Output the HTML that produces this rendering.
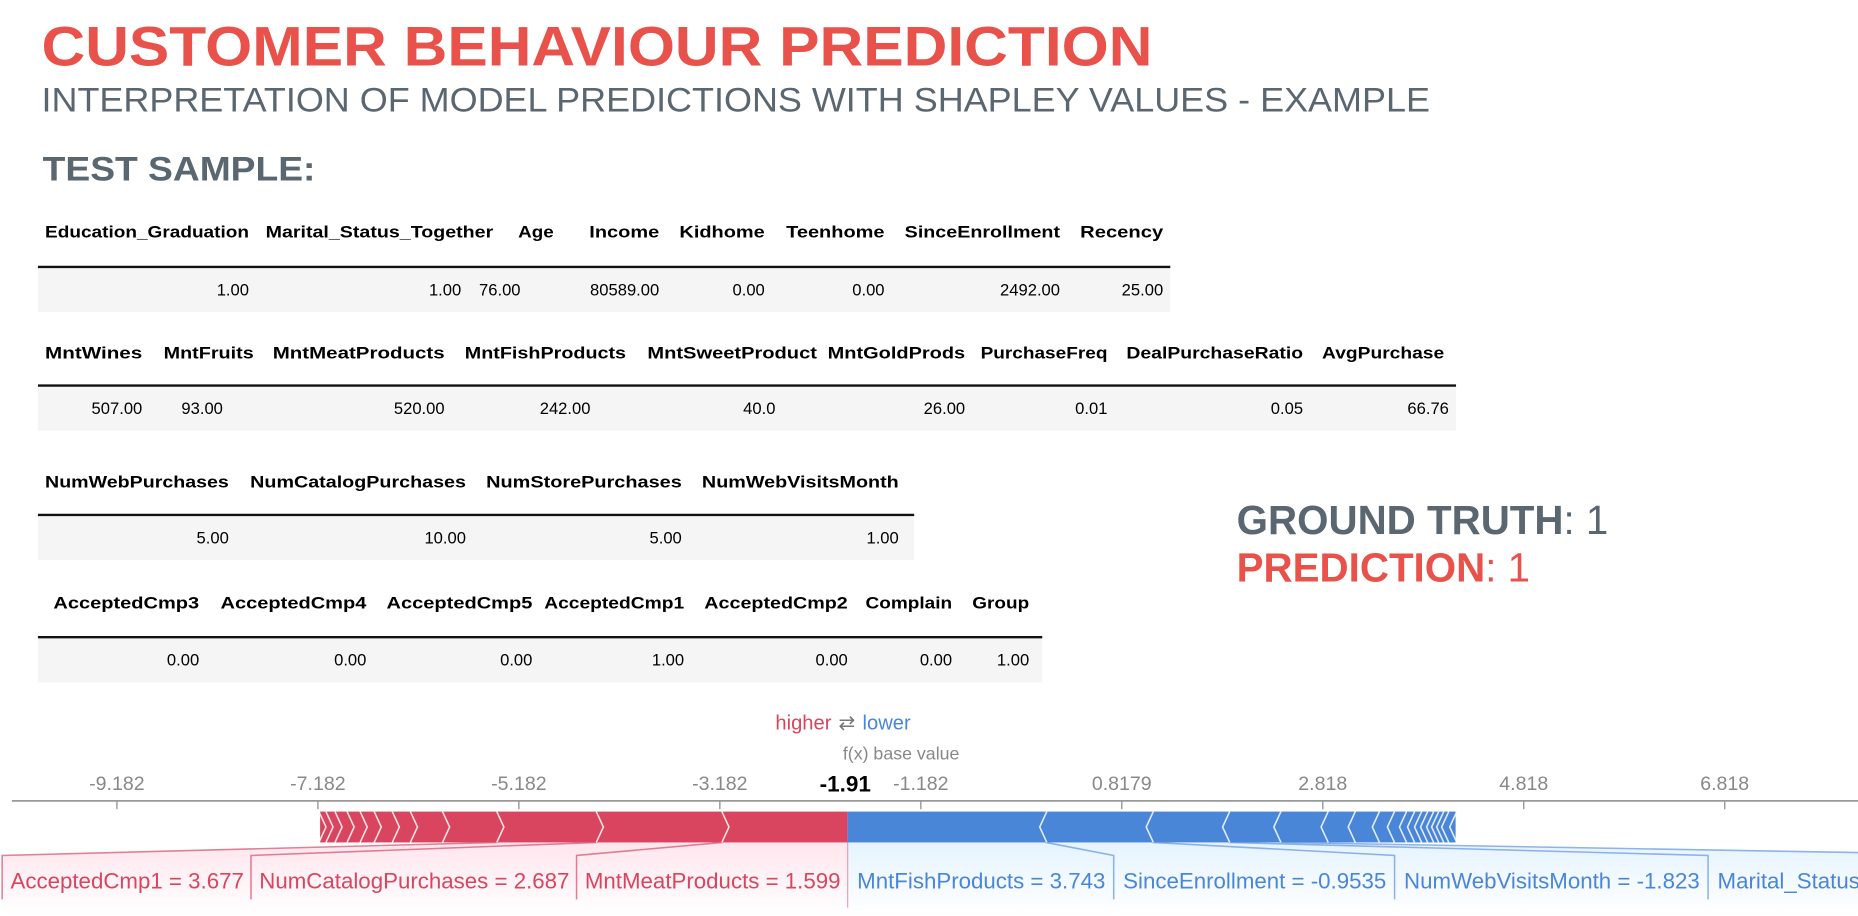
<!DOCTYPE html>
<html><head><meta charset="utf-8"><style>
html,body{margin:0;padding:0;background:#fff;}
svg{display:block;font-family:"Liberation Sans",Arial,sans-serif;}
</style></head><body>
<svg id="s" width="1858" height="916" viewBox="0 0 1567 772" preserveAspectRatio="none" xmlns="http://www.w3.org/2000/svg">
<defs>
<linearGradient id="gr" x1="0" y1="0" x2="0" y2="1"><stop offset="0" stop-color="#ff0051" stop-opacity="0.10"/><stop offset="1" stop-color="#ff0051" stop-opacity="0"/></linearGradient>
<linearGradient id="gb" x1="0" y1="0" x2="0" y2="1"><stop offset="0" stop-color="#008bfb" stop-opacity="0.10"/><stop offset="1" stop-color="#008bfb" stop-opacity="0"/></linearGradient>
</defs>
<text x="35" y="55" font-size="47" font-weight="bold" fill="#e8524a" textLength="937" lengthAdjust="spacingAndGlyphs">CUSTOMER BEHAVIOUR PREDICTION</text>
<text x="35" y="94" font-size="29" fill="#5a6670" textLength="1171" lengthAdjust="spacingAndGlyphs">INTERPRETATION OF MODEL PREDICTIONS WITH SHAPLEY VALUES - EXAMPLE</text>
<text x="36" y="152" font-size="29" font-weight="bold" fill="#5a6670" textLength="230" lengthAdjust="spacingAndGlyphs">TEST SAMPLE:</text>
<g id="tables"></g>
<g><text x="1043" y="450" font-size="34" fill="#5a6670"><tspan font-weight="bold">GROUND TRUTH</tspan>: 1</text></g>
<g><text x="1043" y="490" font-size="34" fill="#e8524a"><tspan font-weight="bold">PREDICTION</tspan>: 1</text></g>
<g id="force"></g>
</svg>
<script>
const NS="http://www.w3.org/2000/svg";
function mk(tag,attrs,parent){const e=document.createElementNS(NS,tag);for(const k in attrs)e.setAttribute(k,attrs[k]);parent.appendChild(e);return e;}

// ---- tables ----
const t1Headers=["Education_Graduation","Marital_Status_Together","Age","Income","Kidhome","Teenhome","SinceEnrollment","Recency"];
const t1Values=["1.00","1.00","76.00","80589.00","0.00","0.00","2492.00","25.00"];
const t2Headers=["MntWines","MntFruits","MntMeatProducts","MntFishProducts","MntSweetProduct","MntGoldProds","PurchaseFreq","DealPurchaseRatio","AvgPurchase"];
const t2Values=["507.00","93.00","520.00","242.00","40.0","26.00","0.01","0.05","66.76"];
const t3Headers=["NumWebPurchases","NumCatalogPurchases","NumStorePurchases","NumWebVisitsMonth"];
const t3Values=["5.00","10.00","5.00","1.00"];
const t4Headers=["AcceptedCmp3","AcceptedCmp4","AcceptedCmp5","AcceptedCmp1","AcceptedCmp2","Complain","Group"];
const t4Values=["0.00","0.00","0.00","1.00","0.00","0.00","1.00"];

const tablesG=document.getElementById('tables');
function table(name,headers,values,hx,vx,hy,ly,x1,w){
  const g=mk('g',{},tablesG);
  
  
  const bg=mk('rect',{x:32,y:ly+1,width:x1-32,height:37,fill:'#f5f5f5'},g);
  
  
  const ln=mk('line',{x1:32,x2:x1,y1:ly,y2:ly,stroke:'#111','stroke-width':2},g);
  
  
  headers.forEach((h,i)=>{
    const t=mk('text',{x:hx[i],y:hy,'font-size':14,'font-weight':'bold',fill:'#000',textLength:w[i],lengthAdjust:'spacingAndGlyphs'},g);
    t.textContent=h;
    
    
    const v=mk('text',{x:vx[i],y:ly+24,'font-size':14,fill:'#000','text-anchor':'end'},g);
    v.textContent=values[i];
    
    
  });
}
table('table-demographics',t1Headers,t1Values,[38,224,437,497,573,663,763,911],[210,389,439,556,645,746,894,981],200,225,987,[172,192,30,59,72,83,131,70]);
table('table-spending',t2Headers,t2Values,[38,138,230,392,546,698,827,950,1115],[120,188,375,498,654,814,934,1099,1222],302,325,1228,[82,76,145,136,143,116,107,149,103]);
table('table-purchases',t3Headers,t3Values,[38,211,410,592],[193,393,575,758],411,434,771,[155,182,165,166]);
table('table-campaigns',t4Headers,t4Values,[45,186,326,459,594,730,820],[168,309,449,577,715,803,868],513,537,879,[123,123,123,118,121,73,48]);

// ---- force plot ----
const fx=-1.91;
const tickValues=[-9.182,-7.182,-5.182,-3.182,-1.182,0.8179,2.818,4.818,6.818];
const tickLabels=["-9.182","-7.182","-5.182","-3.182","-1.182","0.8179","2.818","4.818","6.818"];
const redShap=[1.24,1.25,0.99,0.54,0.32,0.18,0.18,0.14,0.13,0.12,0.09,0.07];
const redLabels=["MntMeatProducts = 1.599","NumCatalogPurchases = 2.687","AcceptedCmp1 = 3.677"];
const blueShap=[1.97,1.06,0.76,0.51,0.47,0.27,0.24,0.15,0.12,0.08,0.07,0.06,0.06,0.05,0.05,0.05,0.08];
const blueLabels=["MntFishProducts = 3.743","SinceEnrollment = -0.9535","NumWebVisitsMonth = -1.823","Marital_Status_Together = 1.0"];

const X=v=>607.1+(v+3.182)*84.75;
const F=document.getElementById('force');
const AX=675, BT=684, BB=710, LT=721;
const LFS=18.8;

let t=mk('text',{x:711,y:615,'font-size':17,'text-anchor':'middle'},F);
t.innerHTML='<tspan fill="#d8455f">higher</tspan><tspan fill="#777" dx="6">⇄</tspan><tspan fill="#4a86d8" dx="6">lower</tspan>';


t=mk('text',{x:760,y:640,'font-size':15,fill:'#888','text-anchor':'middle'},F);
t.textContent='f(x) base value';



const axl=mk('line',{x1:10,x2:1567,y1:AX,y2:AX,stroke:'#999','stroke-width':1.5},F);


tickValues.forEach((v,i)=>{
  const tk=mk('line',{x1:X(v),x2:X(v),y1:AX,y2:AX+7,stroke:'#999','stroke-width':1.2},F);
  
  
  const tl=mk('text',{x:X(v),y:666,'font-size':16.5,fill:'#888','text-anchor':'middle'},F);
  tl.textContent=tickLabels[i];
  
  
});
const fl=mk('text',{x:X(fx)-2,y:667,'font-size':19,'font-weight':'bold',fill:'#000','text-anchor':'middle'},F);
fl.textContent=fx.toFixed(2);



const LG=mk('g',{},F);
const BG=mk('g',{},F);
const TG=mk('g',{},F);

// red segments
let cur=fx;
const redSegs=[];
redShap.forEach(s=>{redSegs.push([cur-s,cur]);cur-=s;});
const redStart=X(cur);
const rb=mk('rect',{x:redStart,y:BT,width:X(fx)-redStart,height:BB-BT,fill:'#d9455f'},BG);


redSegs.forEach((sg,i)=>{
  const x=X(sg[0]);
  const c=mk('polyline',{points:`${x-1},${BT} ${x+5},${(BT+BB)/2} ${x-1},${BB}`,fill:'none',stroke:'#fff','stroke-width':1.3,'stroke-opacity':0.85},BG);
  
  
});
let boxR=X(fx);
redLabels.forEach((lab,i)=>{
  const tx=mk('text',{x:boxR-6,y:749,'font-size':LFS,fill:'#d9455f','text-anchor':'end'},TG);
  tx.textContent=lab;
  
  
  const w=tx.getComputedTextLength();
  const boxL=boxR-w-13;
  const sx0=X(redSegs[i][0]), sx1=X(redSegs[i][1]);
  const p=mk('polygon',{points:`${sx0},${BB} ${sx1},${BB} ${boxR},${LT} ${boxR},772 ${boxL},772 ${boxL},${LT}`,fill:'url(#gr)'},LG);
  
  
  const l=mk('polyline',{points:`${sx0},${BB} ${boxL},${LT} ${boxL},758`,fill:'none',stroke:'#e08097','stroke-width':1.3},LG);
  
  
  boxR=boxL;
});

// blue segments
cur=fx;
const blueSegs=[];
blueShap.forEach(s=>{blueSegs.push([cur,cur+s]);cur+=s;});
const blueEnd=X(cur);
const bb=mk('rect',{x:X(fx),y:BT,width:blueEnd-X(fx),height:BB-BT,fill:'#4a86d8'},BG);


blueSegs.forEach((sg,i)=>{
  const x=X(sg[1]);
  const c=mk('polyline',{points:`${x+1},${BT} ${x-5},${(BT+BB)/2} ${x+1},${BB}`,fill:'none',stroke:'#fff','stroke-width':1.3,'stroke-opacity':0.85},BG);
  
  
});
let boxL=X(fx);
blueLabels.forEach((lab,i)=>{
  const tx=mk('text',{x:boxL+8,y:749,'font-size':LFS,fill:'#4a86d8'},TG);
  tx.textContent=lab;
  
  
  const w=tx.getComputedTextLength();
  const bR=boxL+w+15;
  const sx0=X(blueSegs[i][0]), sx1=X(blueSegs[i][1]);
  const p=mk('polygon',{points:`${sx0},${BB} ${sx1},${BB} ${bR},${LT} ${bR},772 ${boxL},772 ${boxL},${LT}`,fill:'url(#gb)'},LG);
  
  
  const l=mk('polyline',{points:`${sx1},${BB} ${bR},${LT} ${bR},758`,fill:'none',stroke:'#8fb3e6','stroke-width':1.3},LG);
  
  
  boxL=bR;
});
const cl=mk('line',{x1:X(fx),x2:X(fx),y1:BB,y2:765,stroke:'#e9a0b0','stroke-width':1},LG);


</script>
</body></html>
